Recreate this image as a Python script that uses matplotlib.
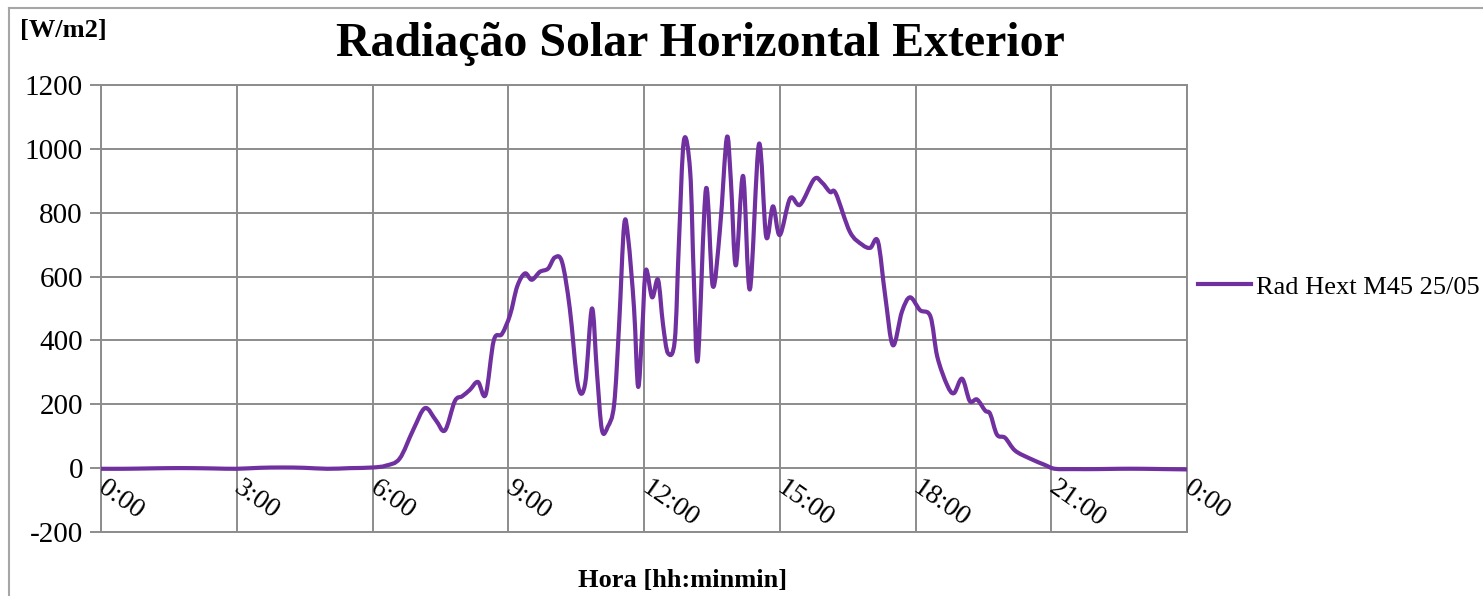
import matplotlib.pyplot as plt
from matplotlib.lines import Line2D
from matplotlib.path import Path
from matplotlib.patches import PathPatch

# hours of the day and radiation readings [W/m2]
hours = [0, 0.5, 1, 1.5, 2, 2.5, 3, 3.5, 4, 4.5, 5, 5.5, 6, 6.3, 6.6, 6.9,
         7.16, 7.4, 7.6, 7.82, 7.98, 8.15, 8.33, 8.5, 8.68, 8.86, 9.04, 9.2,
         9.37, 9.52, 9.7, 9.88, 10.03, 10.19, 10.36, 10.54, 10.7, 10.85,
         10.96, 11.07, 11.2, 11.34, 11.45, 11.56, 11.65, 11.78, 11.87, 11.96,
         12.04, 12.18, 12.31, 12.42, 12.53, 12.68, 12.77, 12.88, 13.02, 13.1,
         13.19, 13.37, 13.52, 13.68, 13.83, 13.92, 14.03, 14.19, 14.34, 14.54,
         14.7, 14.85, 15.0, 15.23, 15.45, 15.76, 15.93, 16.11, 16.24, 16.55,
         16.82, 17.0, 17.17, 17.33, 17.5, 17.7, 17.88, 18.1, 18.33, 18.48,
         18.7, 18.85, 19.03, 19.2, 19.36, 19.54, 19.65, 19.8, 19.98, 20.2,
         20.53, 20.86, 21.08, 21.5, 22, 22.5, 23, 23.5, 24]
rad = [-2, -2, -1, 0, 0, -1, -2, 1, 2, 1, -2, 0, 2, 8, 30, 120,
       188, 150, 118, 210, 225, 245, 270, 230, 400, 420, 480, 570,
       610, 590, 615, 625, 660, 645, 500, 260, 265, 500,
       300, 120, 130, 200, 450, 760, 720, 500, 255, 430,
       620, 535, 590, 450, 360, 400, 700, 1025, 930, 600,
       340, 875, 570, 750, 1035, 900, 635, 915, 560, 1015,
       725, 820, 730, 845, 825, 905, 895, 865, 860, 740,
       700, 690, 710, 540, 385, 490, 535, 495, 475, 350,
       260, 235, 280, 210, 215, 180, 170, 105, 95, 55,
       30, 10, -2, -3, -3, -2, -2, -3, -4]

xticks = [0, 3, 6, 9, 12, 15, 18, 21, 24]
xlabels = ['0:00', '3:00', '6:00', '9:00', '12:00', '15:00', '18:00', '21:00', '0:00']
yticks = [-200, 0, 200, 400, 600, 800, 1000, 1200]

line_c = '#7030A0'
grid_c = '#8c8c8c'


def smooth_path(xs, ys):
    # Excel-like smoothed line: Catmull-Rom segments drawn as cubic Beziers
    n = len(xs)
    verts = [(xs[0], ys[0])]
    codes = [Path.MOVETO]
    for i in range(n - 1):
        x0, y0 = (xs[i - 1], ys[i - 1]) if i > 0 else (xs[i], ys[i])
        x1, y1 = xs[i], ys[i]
        x2, y2 = xs[i + 1], ys[i + 1]
        x3, y3 = (xs[i + 2], ys[i + 2]) if i + 2 < n else (x2, y2)
        verts += [(x1 + (x2 - x0) / 6, y1 + (y2 - y0) / 6),
                  (x2 - (x3 - x1) / 6, y2 - (y3 - y1) / 6),
                  (x2, y2)]
        codes += [Path.CURVE4] * 3
    return Path(verts, codes)


plt.rcParams['font.family'] = ['Liberation Serif', 'DejaVu Serif']

fig = plt.figure(figsize=(14.83, 5.96), dpi=100)
ax = fig.add_axes([101 / 1483, 1 - 532 / 596, (1187 - 101) / 1483, (532 - 85) / 596])

ax.add_patch(PathPatch(smooth_path(hours, rad), facecolor='none', edgecolor=line_c,
                       lw=3.0, joinstyle='round', capstyle='round', zorder=3))

ax.set_xlim(0, 24)
ax.set_ylim(-200, 1200)
ax.set_yticks(yticks)
ax.set_yticklabels([str(v) for v in yticks], fontsize=21)
ax.set_xticks(xticks)
ax.set_xticklabels([])
ax.tick_params(axis='x', length=0)
ax.tick_params(axis='y', length=8, width=1.4, color=grid_c, pad=5)
ax.grid(True, color=grid_c, lw=1.4)
for s in ax.spines.values():
    s.set_color(grid_c)
    s.set_linewidth(1.4)

# rotated hour labels sitting just above the bottom line
for h, lab in zip(xticks, xlabels):
    ax.text(h, -55, lab, fontsize=20, rotation=-35, rotation_mode='anchor',
            ha='left', va='center', clip_on=False)

fig.text(700 / 1483, 1 - 44 / 596, 'Radiação Solar Horizontal Exterior',
         fontsize=34.5, fontweight='bold', ha='center', va='center')
fig.text(20 / 1483, 1 - 30 / 596, '[W/m2]', fontsize=19, fontweight='bold',
         ha='left', va='center')
fig.text(683 / 1483, 1 - 581 / 596, 'Hora [hh:minmin]', fontsize=19,
         fontweight='bold', ha='center', va='center')

handle = Line2D([], [], color=line_c, lw=3.0)
ax.legend([handle], ['Rad Hext M45 25/05'], loc='center left',
          bbox_to_anchor=(1198 / 1483, 1 - 287 / 596),
          bbox_transform=fig.transFigure, frameon=False, fontsize=19,
          handlelength=2.0, handletextpad=0.2, borderpad=0, borderaxespad=0)

# outer chart frame
fig.add_artist(Line2D([9 / 1483, 9 / 1483], [0, 1 - 8 / 596], color='#a6a6a6', lw=1.5))
fig.add_artist(Line2D([9 / 1483, 1], [1 - 8 / 596, 1 - 8 / 596], color='#a6a6a6', lw=1.5))

fig.savefig('out.png', dpi=100)
